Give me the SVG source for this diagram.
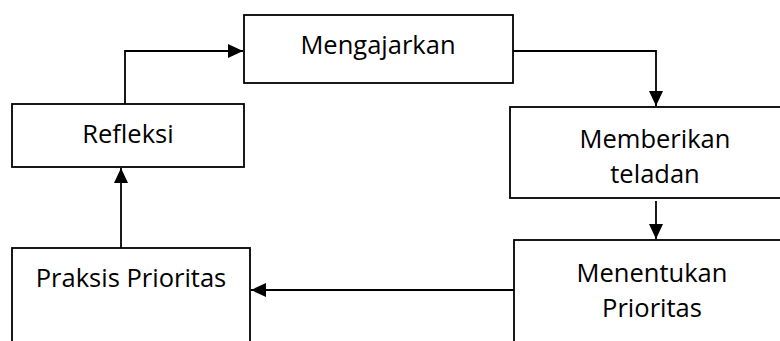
<svg xmlns="http://www.w3.org/2000/svg" width="780" height="341" viewBox="0 0 780 341">
<defs>
<style>
.box{fill:#fff;stroke:#000;stroke-width:1.8}
.lbl{font-family:"Open Sans","Liberation Sans",sans-serif;font-size:25.5px;fill:#000;text-anchor:middle}
.con{fill:none;stroke:#000;stroke-width:1.8}
</style>
<marker id="ah" viewBox="0 0 15 14" refX="15" refY="7" markerWidth="15" markerHeight="14" markerUnits="userSpaceOnUse" orient="auto">
<path d="M0,0 L15,7 L0,14 Z" fill="#000"/>
</marker>
</defs>
<g id="n-mengajarkan"><rect class="box" x="244" y="15" width="269" height="68"/><text class="lbl" x="378" y="54">Mengajarkan</text></g>
<g id="n-memberikan"><rect class="box" x="510" y="107" width="275" height="91"/><text class="lbl" x="655" y="148">Memberikan</text><text class="lbl" x="655" y="183">teladan</text></g>
<g id="n-menentukan"><rect class="box" x="514" y="240" width="275" height="120"/><text class="lbl" x="652" y="282">Menentukan</text><text class="lbl" x="652" y="317">Prioritas</text></g>
<g id="n-praksis"><rect class="box" x="12" y="248" width="238" height="120"/><text class="lbl" x="131" y="287">Praksis Prioritas</text></g>
<g id="n-refleksi"><rect class="box" x="12" y="104" width="232" height="63"/><text class="lbl" x="128" y="143">Refleksi</text></g>
<g id="connectors">
<path class="con" d="M513,51 H656 V106" marker-end="url(#ah)"/>
<path class="con" d="M656,201 V239" marker-end="url(#ah)"/>
<path class="con" d="M514,290 H251" marker-end="url(#ah)"/>
<path class="con" d="M121,248 V168" marker-end="url(#ah)"/>
<path class="con" d="M125,104 V51 H243" marker-end="url(#ah)"/>
</g>
</svg>
